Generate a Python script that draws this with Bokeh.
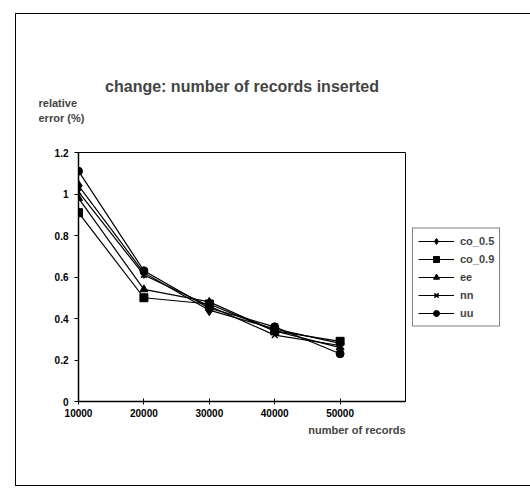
from bokeh.plotting import figure
from bokeh.models import (Legend, LegendItem, FixedTicker, Range1d, Title)
from bokeh.embed import file_html
from bokeh.resources import INLINE

records = [10000, 20000, 30000, 40000, 50000]
co_05 = [1.04, 0.62, 0.44, 0.35, 0.28]
co_09 = [0.91, 0.50, 0.47, 0.34, 0.29]
ee = [0.98, 0.54, 0.48, 0.34, 0.26]
nn = [1.01, 0.61, 0.46, 0.32, 0.27]
uu = [1.11, 0.63, 0.45, 0.36, 0.23]
y_ticks = [0, 0.2, 0.4, 0.6, 0.8, 1.0, 1.2]
y_tick_labels = ["0", "0.2", "0.4", "0.6", "0.8", "1", "1.2"]
x_ticks = [10000, 20000, 30000, 40000, 50000]

FONT = "Liberation Sans"

p = figure(frame_width=327, frame_height=249, output_backend="svg", toolbar_location=None,
           x_range=Range1d(10000, 60000), y_range=Range1d(0, 1.2),
           min_border_left=62, min_border_right=114, min_border_top=138,
           min_border_bottom=84,
           styles={"border": "1.5px solid black", "margin-left": "15px",
                   "margin-top": "13px"})
p.grid.visible = False
p.outline_line_color = "black"
p.outline_line_width = 1
p.background_fill_color = "white"
p.border_fill_color = "white"

p.xaxis.ticker = FixedTicker(ticks=x_ticks)
p.yaxis.ticker = FixedTicker(ticks=y_ticks)
p.yaxis.major_label_overrides = {t: l for t, l in zip(y_ticks, y_tick_labels)}
p.xaxis.minor_tick_line_color = None
p.yaxis.minor_tick_line_color = None
for ax in (p.xaxis, p.yaxis):
    ax.major_label_text_font = FONT
    ax.major_label_text_font_style = "bold"
    ax.major_label_text_font_size = "10px"
    ax.major_label_text_color = "black"
    ax.axis_line_color = "black"
    ax.axis_line_width = 1.5
    ax.major_tick_line_color = "black"
p.xaxis.major_tick_in = 3
p.xaxis.major_tick_out = 3
p.yaxis.major_tick_in = 0
p.yaxis.major_tick_out = 4
p.xaxis.major_label_standoff = 4
p.yaxis.major_label_standoff = 6

series = [
    ("co_0.5", co_05, "diamond", 11),
    ("co_0.9", co_09, "square", 8),
    ("ee", ee, "triangle", 8),
    ("nn", nn, "x", 8),
    ("uu", uu, "circle", 8),
]
items = []
for name, vals, marker, size in series:
    r1 = p.line(records, vals, line_color="black", line_width=1.2)
    r2 = p.scatter(records, vals, marker=marker, size=size, fill_color="black",
                   line_color="black", line_width=1.5 if marker == "x" else 1)
    items.append(LegendItem(label=name, renderers=[r1, r2]))

legend = Legend(items=items, location="center_left", border_line_color="black",
                border_line_width=1, label_text_font=FONT, label_text_font_style="bold",
                label_text_font_size="11px", glyph_width=36, glyph_height=15,
                spacing=3, padding=5, margin=7, label_standoff=6)
p.add_layout(legend, "right")

p.add_layout(Title(text=" ", text_font=FONT, text_font_size="9px", standoff=16), "above")
p.add_layout(Title(text="relative\nerror (%)", text_font=FONT, text_font_style="bold",
                   text_font_size="11px", text_line_height=1.3, align="left",
                   offset=-40, standoff=0), "above")
p.add_layout(Title(text="change: number of records inserted", text_font=FONT,
                   text_font_style="bold", text_font_size="16px", align="center",
                   offset=12, standoff=0), "above")
p.add_layout(Title(text="number of records", text_font=FONT, text_font_style="bold",
                   text_font_size="11px", align="right", standoff=4), "below")

open("out.html", "w").write(file_html(p, INLINE))
